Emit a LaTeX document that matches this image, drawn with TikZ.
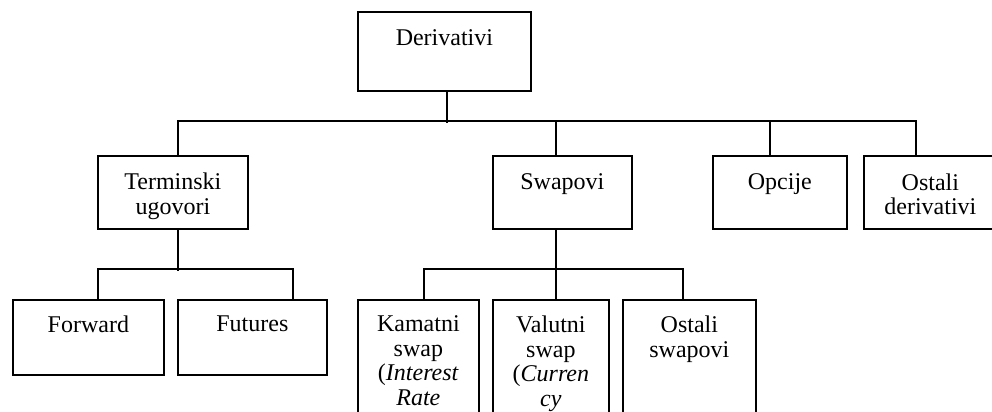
\documentclass[tikz,border=0pt]{standalone}
\usepackage{fontspec}
\setmainfont{Liberation Serif}
\usepackage{tikz}

\begin{document}
\begin{tikzpicture}[x=0.5pt, y=-0.5pt,
        box/.style={draw, line width=0.9pt, anchor=north west, inner sep=0pt, minimum height=#1},
        box/.default=36.5pt,
        lbl/.style={anchor=north, inner sep=0pt, align=center, font=\fontsize{12}{12.25}\selectfont},
        conn/.style={line width=0.9pt}]
        \useasboundingbox (0,0) rectangle (992,412);
        \clip (0,0) rectangle (992,412);
        \node[box=39.5pt, minimum width=86.5pt] (deriv) at (357,11) {};
        \node[box, minimum width=75pt] (term) at (97,155) {};
        \node[box, minimum width=69.5pt] (swap) at (492,155) {};
        \node[box, minimum width=67pt] (opc) at (712,155) {};
        \node[box, minimum width=66.5pt] (ostd) at (863,155) {};
        \node[box=37.5pt, minimum width=75.5pt] (fwd) at (12,299) {};
        \node[box=37.5pt, minimum width=74.5pt] (fut) at (177,299) {};
        \node[box=80pt, minimum width=60.5pt] (kam) at (357,299) {};
        \node[box=80pt, minimum width=58pt] (val) at (492,299) {};
        \node[box=80pt, minimum width=66.5pt] (ostsw) at (622,299) {};
        \node[lbl] (deriv-t) at ([yshift=-9pt]deriv.north) {Derivativi};
        \node[lbl] (term-t) at ([yshift=-8.75pt]term.north) {Terminski\\ugovori};
        \node[lbl] (swap-t) at ([yshift=-9pt]swap.north) {Swapovi};
        \node[lbl] (opc-t) at ([yshift=-9pt]opc.north) {Opcije};
        \node[lbl] (ostd-t) at ([yshift=-9pt]ostd.north) {Ostali\\derivativi};
        \node[lbl] (fwd-t) at ([yshift=-8.25pt]fwd.north) {Forward};
        \node[lbl] (fut-t) at ([yshift=-8.25pt]fut.north) {Futures};
        \node[lbl] (kam-t) at ([yshift=-8.25pt]kam.north) {Kamatni\\swap\\(\textit{Interest}\\\textit{Rate}};
        \node[lbl] (val-t) at ([yshift=-8.25pt]val.north) {Valutni\\swap\\(\textit{Curren}\\\textit{cy}};
        \node[lbl] (ostsw-t) at ([yshift=-8.25pt]ostsw.north) {Ostali\\swapovi};
        \draw[conn] ([xshift=1.25pt]deriv.south) -- ++(0,31);
        \draw[conn] ([xshift=2.5pt]term.north) -- ++(0,-34) -| ([xshift=-7.25pt]ostd.north);
        \draw[conn] ([xshift=-3.25pt]swap.north) -- ++(0,-34);
        \draw[conn] ([xshift=-5pt]opc.north) -- ++(0,-34);
        \draw[conn] ([xshift=2.5pt]term.south) -- ++(0,41);
        \draw[conn] ([xshift=4.75pt]fwd.north) -- ++(0,-30) -| ([xshift=20.25pt]fut.north);
        \draw[conn] ([xshift=-3.25pt]swap.south) -- ([xshift=2.5pt]val.north);
        \draw[conn] ([xshift=2.75pt]kam.north) -- ++(0,-30) -| ([xshift=-3.25pt]ostsw.north);
\end{tikzpicture}
\end{document}
